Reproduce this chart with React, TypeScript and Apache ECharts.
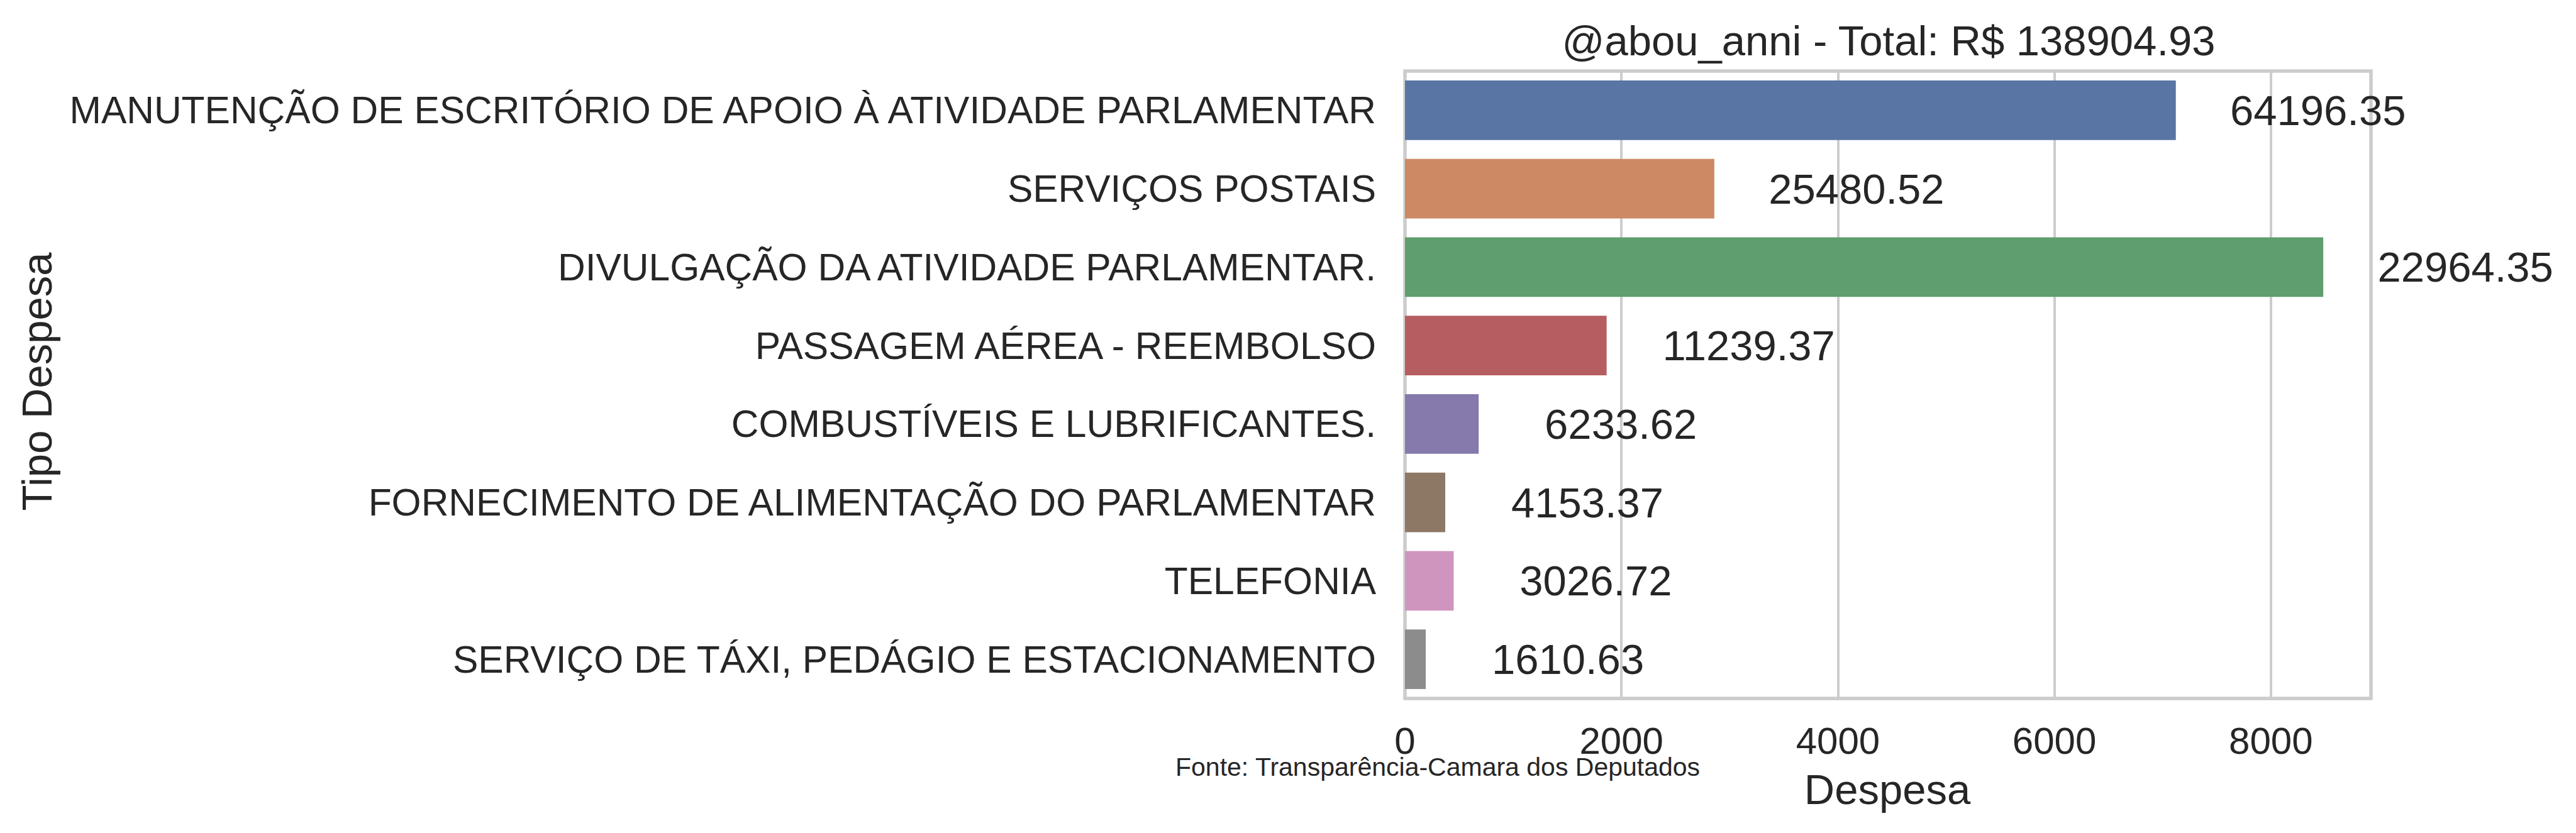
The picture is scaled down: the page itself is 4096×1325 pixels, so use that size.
import React, { useEffect, useRef } from "react";
import * as echarts from "echarts";

const categories = [
  "MANUTENÇÃO DE ESCRITÓRIO DE APOIO À ATIVIDADE PARLAMENTAR",
  "SERVIÇOS POSTAIS",
  "DIVULGAÇÃO DA ATIVIDADE PARLAMENTAR.",
  "PASSAGEM AÉREA - REEMBOLSO",
  "COMBUSTÍVEIS E LUBRIFICANTES.",
  "FORNECIMENTO DE ALIMENTAÇÃO DO PARLAMENTAR",
  "TELEFONIA",
  "SERVIÇO DE TÁXI, PEDÁGIO E ESTACIONAMENTO",
];
const barValues = [7122, 2858, 8484, 1863, 681, 372, 450, 192];
const totalLabels = ["64196.35", "25480.52", "22964.35", "11239.37", "6233.62", "4153.37", "3026.72", "1610.63"];
const barColors = ["#5875a4", "#cc8963", "#5f9e6e", "#b55d60", "#857aab", "#8d7866", "#d095bf", "#8c8c8c"];
const titleText = "@abou_anni - Total: R$ 138904.93";
const xAxisName = "Despesa";
const yAxisName = "Tipo Despesa";
const footnote = "Fonte: Transparência-Camara dos Deputados";
const xMin = 0;
const xMax = 8925;
const xInterval = 2000;

const FONT = "'Liberation Sans', Arial, sans-serif";
const TEXT = "#262626";

export default function App() {
  const ref = useRef<HTMLDivElement>(null);
  useEffect(() => {
    document.body.style.margin = "0";
    const chart = echarts.init(ref.current!, null, { renderer: "svg" });
    chart.setOption({
      animation: false,
      backgroundColor: "#ffffff",
      grid: {
        left: 2234,
        right: 326,
        top: 113,
        bottom: 214,
        show: true,
        borderColor: "#cccccc",
        borderWidth: 5.5,
        backgroundColor: "transparent",
      },
      xAxis: {
        type: "value",
        min: xMin,
        max: xMax,
        interval: xInterval,
        axisLine: { show: false },
        axisTick: { show: false },
        axisLabel: {
          fontSize: 60,
          lineHeight: 60,
          fontFamily: FONT,
          color: TEXT,
          margin: 37,
          showMaxLabel: false,
          formatter: (v: number) => (v % xInterval === 0 ? String(v) : ""),
        },
        splitLine: { show: true, lineStyle: { color: "#cccccc", width: 4 } },
      },
      yAxis: {
        type: "category",
        data: categories,
        inverse: true,
        axisLine: { show: false },
        axisTick: { show: false },
        splitLine: { show: false },
        axisLabel: {
          fontSize: 60.5,
          fontFamily: FONT,
          color: TEXT,
          margin: 46,
        },
      },
      series: [
        {
          type: "bar",
          data: barValues.map((v, i) => ({ value: v, itemStyle: { color: barColors[i] } })),
          barCategoryGap: "24%",
          label: {
            show: true,
            position: "right",
            distance: 226,
            align: "center",
            fontSize: 67,
            fontFamily: FONT,
            color: TEXT,
            formatter: (p: any) => totalLabels[p.dataIndex],
          },
        },
      ],
      graphic: [
        {
          type: "text",
          x: 3003,
          y: 64,
          style: { text: titleText, fontSize: 67, fontFamily: FONT, fill: TEXT, textAlign: "center", textVerticalAlign: "middle" },
        },
        {
          type: "text",
          x: 3001,
          y: 1255,
          style: { text: xAxisName, fontSize: 67, fontFamily: FONT, fill: TEXT, textAlign: "center", textVerticalAlign: "middle" },
        },
        {
          type: "text",
          x: 58,
          y: 607,
          rotation: Math.PI / 2,
          style: { text: yAxisName, fontSize: 67, fontFamily: FONT, fill: TEXT, textAlign: "center", textVerticalAlign: "middle" },
        },
        {
          type: "text",
          x: 1869,
          y: 1220,
          style: { text: footnote, fontSize: 41, fontFamily: FONT, fill: TEXT, textAlign: "left", textVerticalAlign: "middle" },
        },
      ],
    });
    return () => chart.dispose();
  }, []);
  return <div ref={ref} style={{ position: "fixed", left: 0, top: 0, width: 4096, height: 1325 }} />;
}
